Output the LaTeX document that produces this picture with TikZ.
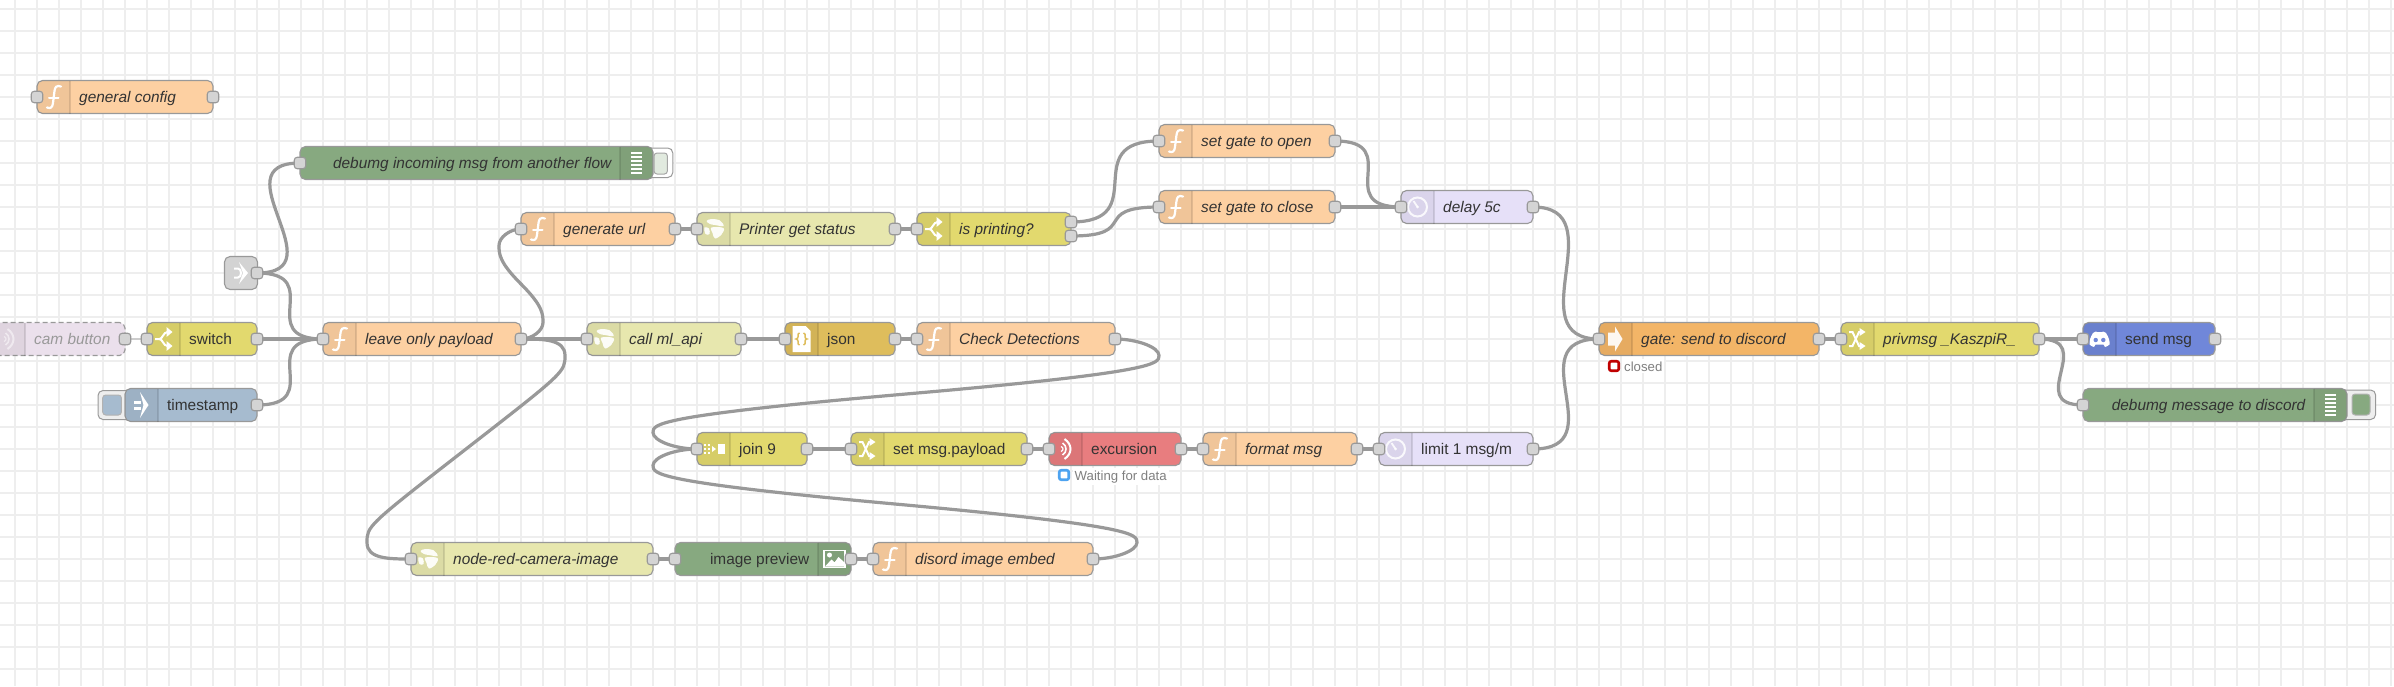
\documentclass[tikz,border=0pt]{standalone}
\usepackage{fontspec}
\setmainfont{Liberation Sans}
\usetikzlibrary{arrows.meta}
\pgfdeclarelayer{gridlayer}
\pgfdeclarelayer{wirelayer}
\pgfsetlayers{gridlayer,wirelayer,main}
\definecolor{txt}{HTML}{333333}
\definecolor{edge}{HTML}{999999}
\definecolor{wirec}{HTML}{999999}
\definecolor{gridc}{HTML}{EEEEEE}
\definecolor{portc}{HTML}{D4D4D4}
\definecolor{fnc}{HTML}{FDD0A2}
\definecolor{dbgc}{HTML}{87A980}
\definecolor{linkc}{HTML}{D3D3D3}
\definecolor{swc}{HTML}{E2D96E}
\definecolor{httpc}{HTML}{E7E7AE}
\definecolor{injc}{HTML}{A6BBCF}
\definecolor{jsonc}{HTML}{DEBD5C}
\definecolor{delc}{HTML}{E6E0F8}
\definecolor{gatec}{HTML}{F3B567}
\definecolor{discc}{HTML}{7087D9}
\definecolor{mqttc}{HTML}{E87D7F}
\definecolor{camc}{HTML}{EBE0EC}
\definecolor{statred}{HTML}{C00000}
\definecolor{statblue}{HTML}{4DA3F0}
\tikzset{
  nrbox/.style={rectangle,draw=edge,line width=1.1pt,rounded corners=5.5pt,minimum height=33pt,inner sep=0pt,outer sep=0pt},
  fnstyle/.style={fill=fnc},
  dbgstyle/.style={fill=dbgc},
  swstyle/.style={fill=swc},
  httpstyle/.style={fill=httpc},
  injstyle/.style={fill=injc},
  jsonstyle/.style={fill=jsonc},
  delstyle/.style={fill=delc},
  gatestyle/.style={fill=gatec},
  discstyle/.style={fill=discc},
  mqttstyle/.style={fill=mqttc},
  camstyle/.style={fill=camc,dashed,dash pattern=on 5pt off 3pt},
  linkstyle/.style={fill=linkc},
  lblit/.style={font=\fontsize{15.4}{18}\selectfont\itshape,text=txt,inner sep=0pt},
  lblrm/.style={font=\fontsize{15.4}{18}\selectfont,text=txt,inner sep=0pt},
  lblcam/.style={font=\fontsize{15.4}{18}\selectfont\itshape,text=txt!50,inner sep=0pt},
  iconshade/.style={fill=black,fill opacity=.05},
  icondiv/.style={draw=black,draw opacity=.1,line width=1.1pt},
  portbox/.style={rectangle,draw=edge,fill=portc,line width=1.1pt,rounded corners=3pt,minimum size=11.5pt,inner sep=0pt},
  wire/.style={draw=wirec,line width=3.2pt},
  offwire/.style={draw=wirec!50,line width=2pt},
  white line/.style={draw=white,line width=2pt},
  btnouter/.style={draw=edge,line width=1pt,rounded corners=5pt},
  btninner/.style={line width=1pt,rounded corners=3pt},
  stat/.style={font=\fontsize{13.2}{15}\selectfont,text=black!50,fill=white,inner xsep=2pt,inner ysep=2pt},
  staticon/.style={rectangle,fill=white,line width=2.6pt,rounded corners=2pt,minimum size=9.5pt,inner sep=0pt}
}
% icons, drawn about the centre of the icon area; y runs down
\newcommand{\iconFn}{%
  \draw[white line,line width=2.2pt,line cap=round] (7.5,-10.5) .. controls (3,-12) and (1.5,-10) .. (1,-6) -- (-0.5,6) .. controls (-1,10.5) and (-3,12) .. (-6.5,10.5);
  \draw[white line,line cap=round] (-4.5,1) -- (5,1);}
\newcommand{\iconSw}{%
  \draw[white line] (-8.5,0) -- (-4,0) .. controls (-1,0) and (0,-7) .. (4,-7);
  \draw[white line] (-4,0) .. controls (-1,0) and (0,7) .. (4,7);
  \fill[white] (3,-12) -- (9,-7) -- (3,-2) -- cycle;
  \fill[white] (3,12) -- (9,7) -- (3,2) -- cycle;}
\newcommand{\iconGlobe}{%
  \fill[white,opacity=.92] plot[smooth cycle,tension=.6] coordinates {(-7,-8) (-2,-10) (6.5,-8.5) (10,-3) (1.5,-4) (-3.5,-5)};
  \fill[white,opacity=.92] plot[smooth cycle,tension=.6] coordinates {(-2,-1.5) (10,-1) (8,5.5) (1.5,9.5) (-1,4)};
  \fill[white,opacity=.92] plot[smooth cycle,tension=.6] coordinates {(-9,-1.5) (-4.5,-0.5) (-4,5) (-8,5)};}
\newcommand{\iconBrace}{\draw[jsonc,line width=1.5pt] (-2,-6) .. controls (-4,-6) and (-3.5,-4) .. (-3.5,-2) .. controls (-3.5,-1) and (-4.5,0) .. (-5.5,0) .. controls (-4.5,0) and (-3.5,1) .. (-3.5,2) .. controls (-3.5,4) and (-4,6) .. (-2,6);}
\newcommand{\iconJson}{%
  \fill[white] (-9,-13) -- (4,-13) -- (9,-8) -- (9,13) -- (-9,13) -- cycle;
  \iconBrace
  \begin{scope}[xscale=-1]\iconBrace\end{scope}}
\newcommand{\iconDelay}{%
  \draw[white,opacity=.85,line width=2pt] (0,0) circle (9.5);
  \draw[white,opacity=.85,line width=1.8pt] (0,0) -- (-4,-6);
  \fill[white,opacity=.85] (0,0) circle (1.5);}
\newcommand{\iconChange}{%
  \draw[white line] (-8.5,-7) -- (-5,-7) -- (1.5,7) -- (3,7);
  \draw[white line] (-8.5,7) -- (-5,7) -- (1.5,-7) -- (3,-7);
  \fill[white] (2,-11) -- (8,-7) -- (2,-3) -- cycle;
  \fill[white] (2,11) -- (8,7) -- (2,3) -- cycle;}
\newcommand{\iconJoin}{%
  \foreach \u in {-8.5,-4.5}{\foreach \v in {-4,0,4}{\fill[white] (\u-1,\v-1) rectangle (\u+1,\v+1);}}
  \fill[white] (-1.5,-3) -- (2.5,0) -- (-1.5,3) -- cycle;
  \fill[white] (4.5,-5) rectangle (11.5,5);}
\newcommand{\iconWave}{%
  \draw[white,line width=1.2pt] (-4.5,-2.5) .. controls (-1.8,-1.4) and (-1.8,1.4) .. (-4.5,2.5);
  \draw[white,line width=1.6pt] (-3,-6) .. controls (1.7,-3) and (1.7,3) .. (-3,6);
  \draw[white,line width=2pt] (-1,-10) .. controls (7,-4.5) and (7,4.5) .. (-1,10);}
\newcommand{\iconInject}{%
  \fill[white] (-7.5,-4.5) rectangle (-0.5,-1.5);
  \fill[white] (-7.5,1.5) rectangle (-0.5,4.5);
  \fill[white] (-1.5,-13) -- (7,0) -- (-1.5,13) -- (2,0) -- cycle;}
\newcommand{\iconGate}{%
  \fill[white,opacity=.92] (-7.5,-6.5) -- (-0.5,-6.5) -- (-0.5,-12.5) -- (7,0) -- (-0.5,12.5) -- (-0.5,6.5) -- (-7.5,6.5) -- cycle;}
\newcommand{\iconLink}{%
  \draw[white,line width=2pt] (-7,-4.5) -- (-3,-4.5) .. controls (1,-4.5) and (1,4.5) .. (-3,4.5) -- (-7,4.5);
  \fill[white] (-2,-11) -- (7,0) -- (-2,11) -- (2,0) -- cycle;}
\newcommand{\iconDiscord}{%
  \fill[white] (-6.5,-6) .. controls (-4,-7.5) and (-3,-8) .. (-2.5,-7) -- (2.5,-7) .. controls (3,-8) and (4,-7.5) .. (6.5,-6) .. controls (9,-2) and (10.5,2) .. (10,5.5) .. controls (8.5,7) and (7,7.5) .. (5.5,8) -- (4,5.5) -- (-4,5.5) -- (-5.5,8) .. controls (-7,7.5) and (-8.5,7) .. (-10,5.5) .. controls (-10.5,2) and (-9,-2) .. (-6.5,-6) -- cycle;
  \fill[discc] (-3.8,1) circle (2.2);
  \fill[discc] (3.8,1) circle (2.2);}
\newcommand{\iconDebug}{%
  \foreach \v in {-10,-6,-2,2,6,10}{\fill[white] (-5.5,\v-1) rectangle (5.5,\v+1);}}
\newcommand{\iconImage}{%
  \draw[white,line width=1.5pt] (-10.5,-8.5) rectangle (10.5,8.5);
  \fill[white] (-9.5,7.5) -- (-3,0.5) -- (0,3.5) -- (4,-2) -- (9.5,3) -- (9.5,7.5) -- cycle;
  \fill[white] (-5,-4) circle (2.5);}
% node with its icon on the left: id, x1, x2, cy, box style, label style, label, icon
\newcommand{\nrleft}[8]{%
  \node[nrbox,#5,minimum width={(#3)-(#2)}] (#1) at ({((#2)+(#3))/2},#4) {};
  \fill[iconshade] ({#2+33},{#4-16.5}) [rounded corners=5.5pt] -- (#2,{#4-16.5}) -- (#2,{#4+16.5}) [sharp corners] -- ({#2+33},{#4+16.5}) -- cycle;
  \draw[icondiv] ({#2+33},{#4-16.5}) -- ({#2+33},{#4+16.5});
  \node[#6,anchor=base west] (#1-label) at ({#2+42},{#4+5}) {#7};
  \begin{scope}[shift={({#2+16.5},#4)}]#8\end{scope}}
% node with its icon on the right
\newcommand{\nrright}[8]{%
  \node[nrbox,#5,minimum width={(#3)-(#2)}] (#1) at ({((#2)+(#3))/2},#4) {};
  \fill[iconshade] ({#3-33},{#4-16.5}) [rounded corners=5.5pt] -- (#3,{#4-16.5}) -- (#3,{#4+16.5}) [sharp corners] -- ({#3-33},{#4+16.5}) -- cycle;
  \draw[icondiv] ({#3-33},{#4-16.5}) -- ({#3-33},{#4+16.5});
  \node[#6,anchor=base east] (#1-label) at ({#3-41.5},{#4+5}) {#7};
  \begin{scope}[shift={({#3-16.5},#4)}]#8\end{scope}}
\newcommand{\nrport}[3]{\node[portbox] (#1) at (#2,#3) {};}
\newcommand{\fwire}[3]{\draw[wire] (#2.center) .. controls +(#1,0) and +(-#1,0) .. (#3.center);}
\begin{document}
\begin{tikzpicture}[x=1pt,y=-1pt]
\useasboundingbox (0,0) rectangle (2394,686);
\begin{pgfonlayer}{gridlayer}
  \fill[white] (0,0) rectangle (2394,686);
  \foreach \k in {0,...,108}{\draw[gridc,line width=2pt] ({15+22*\k},0) -- ({15+22*\k},686);}
  \foreach \k in {0,...,31}{\draw[gridc,line width=2pt] (0,{9+22*\k}) -- (2394,{9+22*\k});}
\end{pgfonlayer}

% buttons behind nodes
\draw[btnouter,fill=white] (640,148) rectangle (672.8,177.5);
\draw[btninner,draw=black!35,fill=dbgc!25] (654,153) rectangle (667.4,174);
\draw[btnouter,fill=gridc] (2335,390) rectangle (2375.6,419.5);
\draw[btninner,draw=black!30,fill=dbgc] (2352,394) rectangle (2370,415);
\draw[btnouter,fill=gridc] (98,390.5) rectangle (135,419.5);
\draw[btninner,draw=black!30,fill=injc] (102.7,395) rectangle (121.4,415);

% nodes
\nrleft{gen}{37}{213}{97}{fnstyle}{lblit}{general config}{\iconFn}
\nrright{dbga}{300}{653}{163}{dbgstyle}{lblit}{debumg incoming msg from another flow}{\iconDebug}
\node[nrbox,linkstyle,minimum width=33pt] (lnk) at (241,273) {};
\begin{scope}[shift={(241,273)}]\iconLink\end{scope}
\nrleft{cam}{-8}{125}{339}{camstyle}{lblcam}{cam button}{\begin{scope}[opacity=.5]\iconWave\end{scope}}
\nrleft{sw}{147}{257}{339}{swstyle}{lblrm}{switch}{\iconSw}
\nrleft{ts}{125}{257}{405}{injstyle}{lblrm}{timestamp}{\iconInject}
\nrleft{lop}{323}{521}{339}{fnstyle}{lblit}{leave only payload}{\iconFn}
\nrleft{url}{521}{675}{229}{fnstyle}{lblit}{generate url}{\iconFn}
\nrleft{pgs}{697}{895}{229}{httpstyle}{lblit}{Printer get status}{\iconGlobe}
\nrleft{pri}{917}{1071}{229}{swstyle}{lblit}{is printing?}{\iconSw}
\nrleft{api}{587}{741}{339}{httpstyle}{lblit}{call ml\_api}{\iconGlobe}
\nrleft{jsn}{785}{895}{339}{jsonstyle}{lblrm}{json}{\iconJson}
\nrleft{chk}{917}{1115}{339}{fnstyle}{lblit}{Check Detections}{\iconFn}
\nrleft{opn}{1159}{1335}{141}{fnstyle}{lblit}{set gate to open}{\iconFn}
\nrleft{cls}{1159}{1335}{207}{fnstyle}{lblit}{set gate to close}{\iconFn}
\nrleft{dly}{1401}{1533}{207}{delstyle}{lblit}{delay 5c}{\iconDelay}
\nrleft{gat}{1599}{1819}{339}{gatestyle}{lblit}{gate: send to discord}{\iconGate}
\nrleft{prv}{1841}{2039}{339}{swstyle}{lblit}{privmsg \_KaszpiR\_}{\iconChange}
\nrleft{snd}{2083}{2215}{339}{discstyle}{lblrm}{send msg}{\iconDiscord}
\nrright{dbgb}{2083}{2347}{405}{dbgstyle}{lblit}{debumg message to discord}{\iconDebug}
\nrleft{joi}{697}{807}{449}{swstyle}{lblrm}{join 9}{\iconJoin}
\nrleft{pay}{851}{1027}{449}{swstyle}{lblrm}{set msg.payload}{\iconChange}
\nrleft{exc}{1049}{1181}{449}{mqttstyle}{lblrm}{excursion}{\iconWave}
\nrleft{fmt}{1203}{1357}{449}{fnstyle}{lblit}{format msg}{\iconFn}
\nrleft{lim}{1379}{1533}{449}{delstyle}{lblrm}{limit 1 msg/m}{\iconDelay}
\nrleft{cmi}{411}{653}{559}{httpstyle}{lblit}{node-red-camera-image}{\iconGlobe}
\nrright{prv2}{675}{851}{559}{dbgstyle}{lblrm}{image preview}{\iconImage}
\nrleft{emb}{873}{1093}{559}{fnstyle}{lblit}{disord image embed}{\iconFn}

% status lines
\node[stat,anchor=base west] (gat-status) at (1622,371) {closed};
\node[staticon,draw=statred] (gat-dot) at (1614,366) {};
\node[stat,anchor=base west] (exc-status) at (1072.5,480) {Waiting for data};
\node[staticon,draw=statblue] (exc-dot) at (1064,475) {};

% ports
\nrport{gen-in}{37}{97}\nrport{gen-out}{213}{97}
\nrport{dbga-in}{300}{163}
\nrport{lnk-out}{257}{273}
\nrport{cam-out}{125}{339}
\nrport{sw-in}{147}{339}\nrport{sw-out}{257}{339}
\nrport{ts-out}{257}{405}
\nrport{lop-in}{323}{339}\nrport{lop-out}{521}{339}
\nrport{url-in}{521}{229}\nrport{url-out}{675}{229}
\nrport{pgs-in}{697}{229}\nrport{pgs-out}{895}{229}
\nrport{pri-in}{917}{229}\nrport{pri-outa}{1071}{222}\nrport{pri-outb}{1071}{236}
\nrport{api-in}{587}{339}\nrport{api-out}{741}{339}
\nrport{jsn-in}{785}{339}\nrport{jsn-out}{895}{339}
\nrport{chk-in}{917}{339}\nrport{chk-out}{1115}{339}
\nrport{opn-in}{1159}{141}\nrport{opn-out}{1335}{141}
\nrport{cls-in}{1159}{207}\nrport{cls-out}{1335}{207}
\nrport{dly-in}{1401}{207}\nrport{dly-out}{1533}{207}
\nrport{gat-in}{1599}{339}\nrport{gat-out}{1819}{339}
\nrport{prv-in}{1841}{339}\nrport{prv-out}{2039}{339}
\nrport{snd-in}{2083}{339}\nrport{snd-out}{2215}{339}
\nrport{dbgb-in}{2083}{405}
\nrport{joi-in}{697}{449}\nrport{joi-out}{807}{449}
\nrport{pay-in}{851}{449}\nrport{pay-out}{1027}{449}
\nrport{exc-in}{1049}{449}\nrport{exc-out}{1181}{449}
\nrport{fmt-in}{1203}{449}\nrport{fmt-out}{1357}{449}
\nrport{lim-in}{1379}{449}\nrport{lim-out}{1533}{449}
\nrport{cmi-in}{411}{559}\nrport{cmi-out}{653}{559}
\nrport{prv2-in}{675}{559}\nrport{prv2-out}{851}{559}
\nrport{emb-in}{873}{559}\nrport{emb-out}{1093}{559}

% wires
\begin{pgfonlayer}{wirelayer}
\draw[offwire] (cam-out.center) -- (sw-in.center);
\fwire{82.5}{lnk-out}{dbga-in}
\fwire{70}{lnk-out}{lop-in}
\fwire{49.5}{sw-out}{lop-in}
\fwire{70}{ts-out}{lop-in}
\fwire{49.5}{lop-out}{api-in}
\fwire{16.5}{url-out}{pgs-in}
\fwire{16.5}{pgs-out}{pri-in}
\fwire{82.5}{pri-outa}{opn-in}
\fwire{69.5}{pri-outb}{cls-in}
\fwire{70}{opn-out}{dly-in}
\fwire{49.5}{cls-out}{dly-in}
\fwire{82.5}{dly-out}{gat-in}
\fwire{82.5}{lim-out}{gat-in}
\fwire{33}{api-out}{jsn-in}
\fwire{16.5}{jsn-out}{chk-in}
\fwire{16.5}{gat-out}{prv-in}
\fwire{33}{prv-out}{snd-in}
\fwire{59.5}{prv-out}{dbgb-in}
\fwire{33}{joi-out}{pay-in}
\fwire{16.5}{pay-out}{exc-in}
\fwire{16.5}{exc-out}{fmt-in}
\fwire{16.5}{fmt-out}{lim-in}
\fwire{16.5}{cmi-out}{prv2-in}
\fwire{16.5}{prv2-out}{emb-in}
\draw[wire] (lop-out.center) .. controls (532,339) and (543,330.75) .. (543,322.5) .. controls (543,314.25) and (543,306) .. (521,284) .. controls (499,262) and (499,253.75) .. (499,245.5) .. controls (499,237.25) and (510,229) .. (url-in.center);
\draw[wire] (lop-out.center) .. controls (543,339) and (565,339) .. (565,355.5) .. controls (565,372) and (565,372) .. (466,449) .. controls (367,526) and (367,526) .. (367,542.5) .. controls (367,559) and (389,559) .. (cmi-in.center);
\draw[wire] (chk-out.center) .. controls (1137,339) and (1159,347.25) .. (1159,355.5) .. controls (1159,363.75) and (1159,372) .. (906,394) .. controls (653,416) and (653,424.25) .. (653,432.5) .. controls (653,440.75) and (675,449) .. (joi-in.center);
\draw[wire] (emb-out.center) .. controls (1115,559) and (1137,550.75) .. (1137,542.5) .. controls (1137,534.25) and (1137,526) .. (895,504) .. controls (653,482) and (653,473.75) .. (653,465.5) .. controls (653,457.25) and (675,449) .. (joi-in.center);
\end{pgfonlayer}
\end{tikzpicture}
\end{document}
